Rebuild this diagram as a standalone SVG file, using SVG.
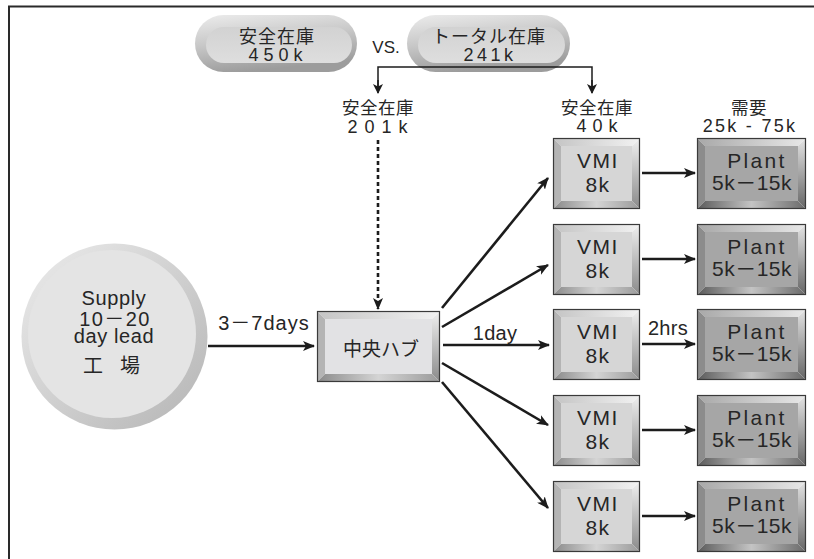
<svg xmlns="http://www.w3.org/2000/svg" xmlns:xlink="http://www.w3.org/1999/xlink" width="814" height="559" viewBox="0 0 814 559">
<style>
text{font-family:"Liberation Sans","Noto Sans CJK JP",sans-serif;fill:#262626;text-anchor:middle}
.t21{font-size:21px;letter-spacing:1.5px}
.t20{font-size:20px;letter-spacing:0.6px}
.t18{font-size:18px;letter-spacing:1px}
.lbl{font-size:17.5px;letter-spacing:0.5px}
.line{stroke:#1c1c1c;stroke-width:2.6;fill:none}
.thin{stroke:#1c1c1c;stroke-width:1.5;fill:none}
.outline{fill:none;stroke:#3a3a3a;stroke-width:1.2}
</style>
<defs>
<marker id="ah" viewBox="0 0 12 10" refX="11" refY="5" markerWidth="12" markerHeight="10" markerUnits="userSpaceOnUse" orient="auto">
<path d="M0,0 L12,5 L0,10 L3,5 Z" fill="#1c1c1c"/>
</marker>
<marker id="ahs" viewBox="0 0 10 10" refX="9" refY="5" markerWidth="10" markerHeight="10" markerUnits="userSpaceOnUse" orient="auto">
<path d="M0,0 L10,5 L0,10 L2.5,5 Z" fill="#1c1c1c"/>
</marker>
<linearGradient id="gTopL" x1="0" y1="0" x2="1" y2="0"><stop offset="0" stop-color="#c4c4c4"/><stop offset="1" stop-color="#f2f2f2"/></linearGradient>
<linearGradient id="gRightL" x1="0" y1="0" x2="0" y2="1"><stop offset="0" stop-color="#f0f0f0"/><stop offset="1" stop-color="#8a8a8a"/></linearGradient>
<linearGradient id="gBotL" x1="0" y1="0" x2="1" y2="0"><stop offset="0" stop-color="#8a8a8a"/><stop offset="0.5" stop-color="#d4d4d4"/><stop offset="1" stop-color="#9a9a9a"/></linearGradient>
<linearGradient id="gTopD" x1="0" y1="0" x2="1" y2="0"><stop offset="0" stop-color="#a8a8a8"/><stop offset="1" stop-color="#e8e8e8"/></linearGradient>
<linearGradient id="gRightD" x1="0" y1="0" x2="0" y2="1"><stop offset="0" stop-color="#e4e4e4"/><stop offset="1" stop-color="#666"/></linearGradient>
<linearGradient id="gBotD" x1="0" y1="0" x2="1" y2="0"><stop offset="0" stop-color="#5a5a5a"/><stop offset="0.5" stop-color="#c4c4c4"/><stop offset="1" stop-color="#6a6a6a"/></linearGradient>
<linearGradient id="gPill" x1="0" y1="0" x2="0.3" y2="1"><stop offset="0" stop-color="#ececec"/><stop offset="0.5" stop-color="#c8c8c8"/><stop offset="1" stop-color="#9c9c9c"/></linearGradient>
<linearGradient id="gPillIn" x1="0" y1="0" x2="0" y2="1"><stop offset="0" stop-color="#d2d2d2"/><stop offset="1" stop-color="#dedede"/></linearGradient>
<linearGradient id="gCirc" x1="0" y1="0" x2="1" y2="1"><stop offset="0" stop-color="#ececec"/><stop offset="1" stop-color="#b4b4b4"/></linearGradient>

<g id="vmiBox">
<polygon points="0,0 87,0 79,8 8,8" fill="url(#gTopL)"/>
<polygon points="0,0 8,8 8,63 0,71" fill="#b4b4b4"/>
<polygon points="87,0 87,71 79,63 79,8" fill="url(#gRightL)"/>
<polygon points="0,71 8,63 79,63 87,71" fill="url(#gBotL)"/>
<rect x="8" y="8" width="71" height="55" fill="#d6d6d6"/>
<rect x="0.5" y="0.5" width="86" height="70" class="outline"/>
</g>
<g id="plantBox">
<polygon points="0,0 109,0 101,8 8,8" fill="url(#gTopD)"/>
<polygon points="0,0 8,8 8,63 0,71" fill="#8c8c8c"/>
<polygon points="109,0 109,71 101,63 101,8" fill="url(#gRightD)"/>
<polygon points="0,71 8,63 101,63 109,71" fill="url(#gBotD)"/>
<rect x="8" y="8" width="93" height="55" fill="#a6a6a6"/>
<rect x="0.5" y="0.5" width="108" height="70" class="outline"/>
</g>
</defs>

<rect width="814" height="559" fill="#fff"/>
<path d="M9,559 V6.5 H814" fill="none" stroke="#2a2a2a" stroke-width="2"/>

<g id="pill-safety">
<rect x="195" y="15" width="162" height="57" rx="28.5" fill="url(#gPill)"/>
<rect x="206" y="27" width="146" height="36" rx="18" fill="url(#gPillIn)"/>
<text x="277" y="43" class="t18">安全在庫</text>
<text x="278" y="61" class="t18" style="letter-spacing:5px">450k</text>
</g>
<text id="vs" x="386" y="53" style="font-size:17px">VS.</text>
<g id="pill-total">
<rect x="407" y="15" width="163" height="57" rx="28.5" fill="url(#gPill)"/>
<rect x="418" y="27" width="147" height="36" rx="18" fill="url(#gPillIn)"/>
<text x="489" y="43" class="t18">トータル在庫</text>
<text x="490" y="61" class="t18" style="letter-spacing:3.5px">241k</text>
</g>

<g id="lbl-hub">
<text x="378" y="114" class="lbl">安全在庫</text>
<text x="381" y="133" class="t18" style="letter-spacing:7px">201k</text>
</g>
<g id="lbl-vmi">
<text x="597" y="114" class="lbl">安全在庫</text>
<text x="600" y="132" class="t18" style="letter-spacing:6px">40k</text>
</g>
<g id="lbl-demand">
<text x="749" y="114" class="lbl">需要</text>
<text x="750" y="132" class="t18" style="letter-spacing:2.3px">25k - 75k</text>
</g>

<g id="factory">
<circle cx="114.5" cy="336.5" r="93" fill="url(#gCirc)"/>
<circle cx="112" cy="334" r="84" fill="#e4e4e4"/>
<text x="114" y="305" class="t20">Supply</text>
<text x="115" y="326" class="t20" style="letter-spacing:1.4px">10－20</text>
<text x="114" y="343" class="t20">day lead</text>
<text x="120" y="373" class="t20" style="letter-spacing:17px">工場</text>
</g>

<g id="hub">
<polygon points="317,311 440,311 432,319 325,319" fill="url(#gTopL)"/>
<polygon points="317,311 325,319 325,374 317,382" fill="#b4b4b4"/>
<polygon points="440,311 440,382 432,374 432,319" fill="url(#gRightL)"/>
<polygon points="317,382 325,374 432,374 440,382" fill="url(#gBotL)"/>
<rect x="325" y="319" width="107" height="55" fill="#e2e2e4"/>
<rect x="317.5" y="311.5" width="122" height="70" class="outline"/>
<text x="381" y="356" style="font-size:19px">中央ハブ</text>
</g>

<g id="vmi1"><use href="#vmiBox" x="553" y="138"/><text x="598" y="168" class="t21">VMI</text><text x="598" y="192" class="t21">8k</text></g>
<g id="vmi2"><use href="#vmiBox" x="553" y="224"/><text x="598" y="254" class="t21">VMI</text><text x="598" y="278" class="t21">8k</text></g>
<g id="vmi3"><use href="#vmiBox" x="553" y="309"/><text x="598" y="339" class="t21">VMI</text><text x="598" y="363" class="t21">8k</text></g>
<g id="vmi4"><use href="#vmiBox" x="553" y="395"/><text x="598" y="425" class="t21">VMI</text><text x="598" y="449" class="t21">8k</text></g>
<g id="vmi5"><use href="#vmiBox" x="553" y="481"/><text x="598" y="511" class="t21">VMI</text><text x="598" y="535" class="t21">8k</text></g>

<g id="plant1"><use href="#plantBox" x="697" y="138"/><text x="757" y="168" class="t21" style="letter-spacing:2.3px">Plant</text><text x="752" y="190" class="t21" style="letter-spacing:0.5px">5k－15k</text></g>
<g id="plant2"><use href="#plantBox" x="697" y="224"/><text x="757" y="254" class="t21" style="letter-spacing:2.3px">Plant</text><text x="752" y="276" class="t21" style="letter-spacing:0.5px">5k－15k</text></g>
<g id="plant3"><use href="#plantBox" x="697" y="309"/><text x="757" y="339" class="t21" style="letter-spacing:2.3px">Plant</text><text x="752" y="361" class="t21" style="letter-spacing:0.5px">5k－15k</text></g>
<g id="plant4"><use href="#plantBox" x="697" y="395"/><text x="757" y="425" class="t21" style="letter-spacing:2.3px">Plant</text><text x="752" y="447" class="t21" style="letter-spacing:0.5px">5k－15k</text></g>
<g id="plant5"><use href="#plantBox" x="697" y="481"/><text x="757" y="511" class="t21" style="letter-spacing:2.3px">Plant</text><text x="752" y="533" class="t21" style="letter-spacing:0.5px">5k－15k</text></g>

<g id="connectors">
<path d="M378,92 V67 H592 V92" class="thin"/>
<line x1="378" y1="80" x2="378" y2="93" class="thin" marker-end="url(#ahs)"/>
<line x1="592" y1="80" x2="592" y2="93" class="thin" marker-end="url(#ahs)"/>
<line x1="378" y1="140" x2="378" y2="309" class="line" stroke-dasharray="4 3" marker-end="url(#ah)"/>
<line x1="208" y1="346" x2="314" y2="346" class="line" marker-end="url(#ah)"/>
<line x1="442" y1="308" x2="548" y2="178" class="line" marker-end="url(#ah)"/>
<line x1="442" y1="327" x2="548" y2="265" class="line" marker-end="url(#ah)"/>
<line x1="443" y1="345" x2="549" y2="345" class="line" marker-end="url(#ah)"/>
<line x1="442" y1="363" x2="548" y2="425" class="line" marker-end="url(#ah)"/>
<line x1="442" y1="382" x2="548" y2="508" class="line" marker-end="url(#ah)"/>
<line x1="642" y1="173" x2="695" y2="173" class="line" marker-end="url(#ah)"/>
<line x1="642" y1="259" x2="695" y2="259" class="line" marker-end="url(#ah)"/>
<line x1="642" y1="344" x2="695" y2="344" class="line" marker-end="url(#ah)"/>
<line x1="642" y1="430" x2="695" y2="430" class="line" marker-end="url(#ah)"/>
<line x1="642" y1="516" x2="695" y2="516" class="line" marker-end="url(#ah)"/>
<text x="264" y="330" class="t20" style="letter-spacing:1px">3－7days</text>
<text x="495" y="340" class="t20" style="letter-spacing:0.3px">1day</text>
<text x="668" y="335" class="t20" style="letter-spacing:0.3px">2hrs</text>
</g>
</svg>
